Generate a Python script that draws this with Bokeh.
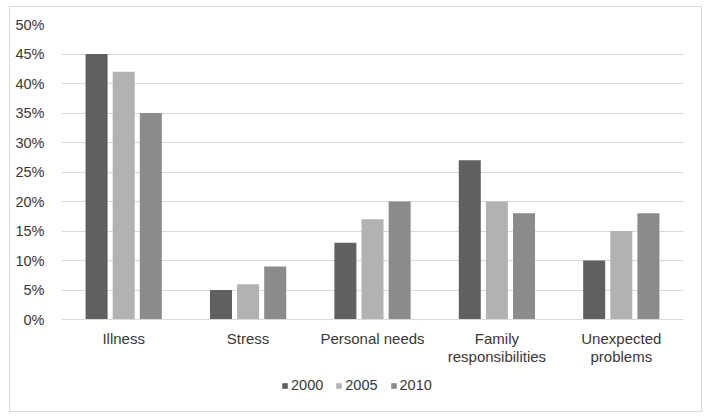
from bokeh.plotting import figure
from bokeh.models import ColumnDataSource, FactorRange, FixedTicker, PrintfTickFormatter, Legend, LegendItem
from bokeh.transform import dodge
from bokeh.embed import file_html
from bokeh.resources import INLINE

categories = ["Illness", "Stress", "Personal needs", "Family\nresponsibilities", "Unexpected\nproblems"]
years = ["2000", "2005", "2010"]
v2000 = [45, 5, 13, 27, 10]
v2005 = [42, 6, 17, 20, 15]
v2010 = [35, 9, 20, 18, 18]
colors = ["#606060", "#b2b2b2", "#8b8b8b"]
y_ticks = [0, 5, 10, 15, 20, 25, 30, 35, 40, 45, 50]

src = ColumnDataSource(dict(cat=categories, y2000=v2000, y2005=v2005, y2010=v2010))

p = figure(x_range=FactorRange(*categories), y_range=(-14.4, 50), width=693, height=406,
           output_backend="svg", toolbar_location=None,
           min_border_left=51, min_border_right=20, min_border_top=17, min_border_bottom=9)
p.styles = {"border": "1px solid #d9d9d9", "box-sizing": "border-box",
            "margin-left": "9px", "margin-top": "6px"}

offs = [-0.218, 0.0, 0.218]
rs = []
for col, off, c in zip(["y2000", "y2005", "y2010"], offs, colors):
    r = p.vbar(x=dodge("cat", off, range=p.x_range), top=col, width=0.177, source=src,
               fill_color=c, line_color=None)
    rs.append(r)

p.outline_line_color = None
p.xgrid.grid_line_color = None
p.ygrid.grid_line_color = "#d9d9d9"
p.ygrid.grid_line_width = 1

p.yaxis.ticker = FixedTicker(ticks=y_ticks)
p.yaxis.formatter = PrintfTickFormatter(format="%d%%")
for ax in (p.xaxis, p.yaxis):
    ax.axis_line_color = None
    ax.major_tick_line_color = None
    ax.minor_tick_line_color = None
    ax.major_label_text_font = "Liberation Sans"
    ax.major_label_text_color = "#383838"
p.yaxis.major_label_text_font_size = "14.5px"
p.xaxis.major_label_text_font_size = "15px"
p.xaxis.major_label_text_line_height = 1.1
p.xaxis.axis_line_color = "#d9d9d9"
p.xaxis.fixed_location = 0
p.yaxis.major_label_standoff = 11
p.xaxis.major_label_standoff = 4

legend = Legend(items=[LegendItem(label=y, renderers=[r]) for y, r in zip(years, rs)],
                orientation="horizontal", location=(220, 11),
                label_text_font="Liberation Sans", label_text_font_size="14.5px",
                label_text_color="#383838", glyph_width=7, glyph_height=7,
                label_standoff=3, spacing=12, padding=0, margin=0, border_line_color=None,
                background_fill_alpha=0)
p.add_layout(legend, "center")

open("out.html", "w").write(file_html(p, INLINE))
